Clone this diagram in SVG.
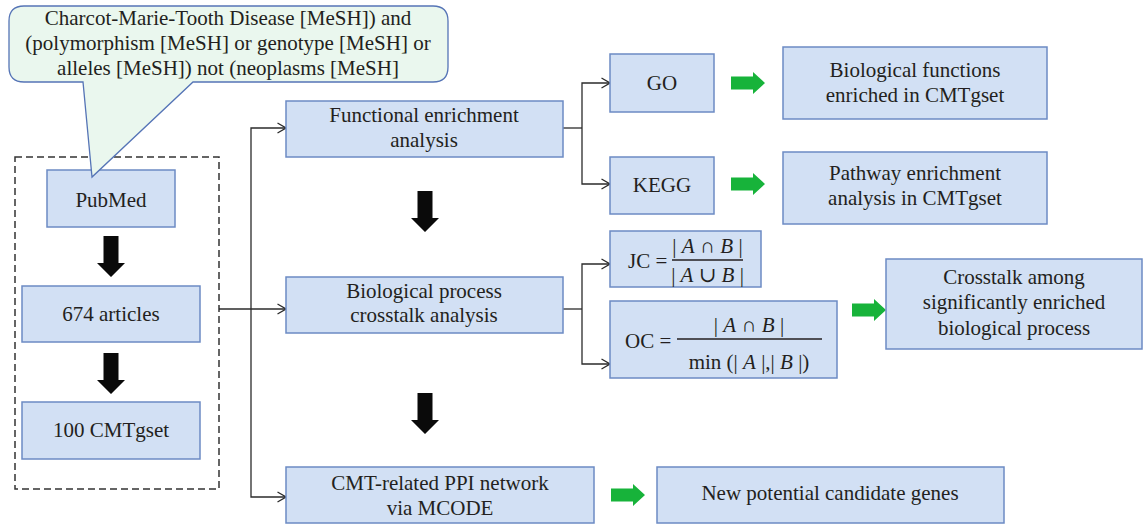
<svg xmlns="http://www.w3.org/2000/svg" width="1144" height="527" viewBox="0 0 1144 527">
  <defs>
    <style>
      .box { fill: #D2E0F4; stroke: #6C8BC4; stroke-width: 1.5; }
      .lbl { font-family: "Liberation Serif", "Times New Roman", serif; font-size: 21px; fill: #231F20; text-anchor: middle; }
      .math { font-family: "Liberation Serif", "DejaVu Serif", serif; font-size: 21px; fill: #231F20; }
      .it { font-style: italic; }
      .wire { fill: none; stroke: #2B2B2B; stroke-width: 1.3; }
      .blk { fill: #0A0A0A; }
      .grn { fill: #17B33A; }
    </style>
    <marker id="open" viewBox="0 0 10 12" refX="9.5" refY="6" markerWidth="10" markerHeight="12" markerUnits="userSpaceOnUse" orient="auto-start-reverse">
      <path d="M1,1 L9.5,6 L1,11" fill="none" stroke="#2B2B2B" stroke-width="1.3"/>
    </marker>
    <!-- down arrow: shaft 15 wide, head 28 wide, origin at top centre -->
    <path id="down" d="M-7.5,0 H7.5 V27 H14 L0,41 L-14,27 H-7.5 Z"/>
    <!-- right arrow: origin at left, vertical centre -->
    <path id="right" d="M0,-6.5 H22 V-11 L34,0 L22,11 V6.5 H0 Z"/>
  </defs>

  <!-- dashed frame around the literature search -->
  <rect x="15" y="157" width="204" height="332" fill="none" stroke="#333" stroke-width="1.5" stroke-dasharray="7 4"/>

  <!-- connectors -->
  <g id="connectors">
    <path class="wire" d="M219,309 H286" marker-end="url(#open)"/>
    <path class="wire" d="M286,128 H251 V497 H286" marker-start="url(#open)" marker-end="url(#open)"/>
    <path class="wire" d="M563,128 H582"/>
    <path class="wire" d="M610,83 H582 V184 H610" marker-start="url(#open)" marker-end="url(#open)"/>
    <path class="wire" d="M563,309 H582"/>
    <path class="wire" d="M610,264 H582 V364 H610" marker-start="url(#open)" marker-end="url(#open)"/>

    <use href="#down" class="blk" x="111" y="236"/>
    <use href="#down" class="blk" x="111" y="353"/>
    <use href="#down" class="blk" x="425" y="191"/>
    <use href="#down" class="blk" x="425" y="393"/>

    <use href="#right" class="grn" x="731" y="83"/>
    <use href="#right" class="grn" x="731" y="184"/>
    <use href="#right" class="grn" x="852" y="310"/>
    <use href="#right" class="grn" x="611" y="495"/>
  </g>

  <g id="pubmed">
    <rect class="box" x="47" y="170" width="128" height="57"/>
    <text class="lbl" x="111" y="207">PubMed</text>
  </g>

  <g id="query">
    <path d="M24,6 H433 Q448,6 448,21 V67 Q448,82 433,82 H193 L92,177 L83,82 H24 Q9,82 9,67 V21 Q9,6 24,6 Z" fill="#EAF7EE" stroke="#5574B6" stroke-width="1.3"/>
    <text class="lbl" x="228" y="25">Charcot-Marie-Tooth Disease [MeSH]) and</text>
    <text class="lbl" x="228" y="50">(polymorphism [MeSH] or genotype [MeSH] or</text>
    <text class="lbl" x="228" y="75">alleles [MeSH]) not (neoplasms [MeSH]</text>
  </g>

  <g id="articles">
    <rect class="box" x="22" y="286" width="178" height="56"/>
    <text class="lbl" x="111" y="321">674 articles</text>
  </g>

  <g id="cmtgset">
    <rect class="box" x="22" y="402" width="178" height="57"/>
    <text class="lbl" x="111" y="437">100 CMTgset</text>
  </g>

  <g id="functional">
    <rect class="box" x="286" y="101" width="277" height="56"/>
    <text class="lbl" x="424" y="122">Functional enrichment</text>
    <text class="lbl" x="424" y="147">analysis</text>
  </g>

  <g id="crosstalk">
    <rect class="box" x="286" y="277" width="277" height="56"/>
    <text class="lbl" x="424" y="298">Biological process</text>
    <text class="lbl" x="424" y="322">crosstalk analysis</text>
  </g>

  <g id="ppi">
    <rect class="box" x="286" y="467" width="308" height="56"/>
    <text class="lbl" x="440" y="490">CMT-related PPI network</text>
    <text class="lbl" x="440" y="515">via MCODE</text>
  </g>

  <g id="go">
    <rect class="box" x="610" y="54" width="104" height="58"/>
    <text class="lbl" x="662" y="90">GO</text>
  </g>

  <g id="kegg">
    <rect class="box" x="610" y="157" width="104" height="57"/>
    <text class="lbl" x="662" y="192">KEGG</text>
  </g>

  <g id="jc">
    <rect class="box" x="610" y="231" width="151" height="56"/>
    <text class="math" x="628" y="268">JC =</text>
    <text class="math" x="707.5" y="253" text-anchor="middle">| <tspan class="it">A</tspan> ∩ <tspan class="it">B</tspan> |</text>
    <line x1="672" y1="260" x2="743" y2="260" stroke="#231F20" stroke-width="1.3"/>
    <text class="math" x="707.5" y="282" text-anchor="middle">| <tspan class="it">A</tspan> ∪ <tspan class="it">B</tspan> |</text>
  </g>

  <g id="oc">
    <rect class="box" x="610" y="301" width="227" height="77"/>
    <text class="math" x="625" y="348">OC =</text>
    <text class="math" x="749" y="332" text-anchor="middle">| <tspan class="it">A</tspan> ∩ <tspan class="it">B</tspan> |</text>
    <line x1="677" y1="339" x2="822" y2="339" stroke="#231F20" stroke-width="1.3"/>
    <text class="math" x="749" y="369" text-anchor="middle">min (| <tspan class="it">A</tspan> |,| <tspan class="it">B</tspan> |)</text>
  </g>

  <g id="bio-functions">
    <rect class="box" x="783" y="47" width="264" height="72"/>
    <text class="lbl" x="915" y="77">Biological functions</text>
    <text class="lbl" x="915" y="102">enriched in CMTgset</text>
  </g>

  <g id="pathway">
    <rect class="box" x="783" y="152" width="264" height="72"/>
    <text class="lbl" x="915" y="180">Pathway enrichment</text>
    <text class="lbl" x="915" y="205">analysis in CMTgset</text>
  </g>

  <g id="crosstalk-result">
    <rect class="box" x="886" y="259" width="256" height="90"/>
    <text class="lbl" x="1014" y="284">Crosstalk among</text>
    <text class="lbl" x="1014" y="309">significantly enriched</text>
    <text class="lbl" x="1014" y="335">biological process</text>
  </g>

  <g id="candidates">
    <rect class="box" x="657" y="467" width="347" height="56"/>
    <text class="lbl" x="830" y="500">New potential candidate genes</text>
  </g>
</svg>
